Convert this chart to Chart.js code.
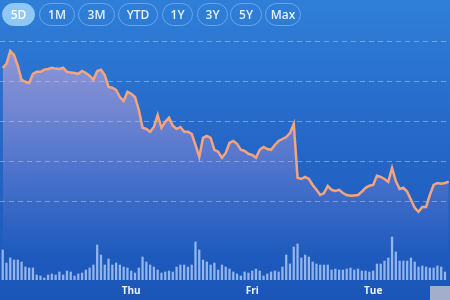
<!DOCTYPE html>
<html><head><meta charset="utf-8">
<script src="https://cdn.jsdelivr.net/npm/chart.js@4"></script>
<style>
html,body{margin:0;padding:0;}
body{width:450px;height:300px;overflow:hidden;position:relative;background:linear-gradient(180deg,#2f7fd8 0%,#2568c8 45%,#1b55b8 100%);font-family:"Open Sans",sans-serif;}
#c{position:absolute;left:0;top:0;}
#btns{position:absolute;left:0;top:3px;width:450px;height:24px;z-index:2;}
.b{position:absolute;top:0;box-sizing:border-box;height:23px;line-height:21px;text-align:center;border-radius:12px;border:1px solid rgba(150,200,255,0.55);color:#e6f0ff;font-size:12px;font-weight:600;}
.b.on{background:#8fc8f5;border-color:#8fc8f5;color:#fff;}
#grey{position:absolute;left:430px;top:286px;width:20px;height:14px;background:#a2aecb;}
</style></head>
<body>
<div id="btns"></div>
<canvas id="c" width="450" height="300"></canvas>
<div id="grey"></div>
<script>
const ranges = ['5D','1M','3M','YTD','1Y','3Y','5Y','Max'];
const dayLabels = ['Thu','Fri','Tue'];
const dayIndex = [34, 66, 98];
const gridPrices = [143, 144, 145, 146, 147];
const price = [146.33,146.43,146.75,146.65,146.38,146.03,145.98,145.95,146.18,146.23,
146.23,146.28,146.30,146.33,146.31,146.30,146.33,146.23,146.21,146.20,
146.18,146.25,146.20,146.13,146.03,146.25,146.28,146.15,145.85,145.83,
145.78,145.60,145.50,145.73,145.68,145.60,145.28,144.83,144.80,144.73,
144.85,145.15,144.83,144.98,145.08,144.88,144.80,144.85,144.73,144.73,
144.68,144.40,144.10,144.58,144.63,144.58,144.28,144.23,144.08,144.20,
144.45,144.50,144.43,144.28,144.25,144.18,144.15,144.08,144.28,144.35,
144.30,144.28,144.40,144.50,144.55,144.60,144.70,144.93,143.58,143.55,
143.60,143.55,143.40,143.28,143.15,143.20,143.38,143.28,143.25,143.28,
143.20,143.15,143.13,143.14,143.15,143.23,143.33,143.38,143.40,143.63,
143.60,143.55,143.48,143.83,143.50,143.30,143.33,143.23,143.03,142.83,
142.73,142.85,142.85,143.15,143.40,143.45,143.43,143.45,143.48];
const volume = [300,170,220,200,200,180,130,120,120,50,40,20,50,60,50,80,50,90,80,40,
60,70,100,120,150,350,250,150,210,150,170,150,130,120,90,70,120,230,180,150,
130,100,70,80,90,80,130,150,150,130,150,380,300,200,180,150,170,100,150,
130,110,80,60,40,80,70,90,110,90,40,60,80,90,80,130,250,160,330,360,
220,250,230,180,160,150,150,150,100,110,100,100,110,120,100,110,90,90,80,90,
160,160,190,220,430,280,190,190,190,220,180,130,140,130,120,120,140,130,80];

const btnLeft = [2,39,78,118,162,197,230,265];
const btnWidth = [33,36,37,40,31,31,32,36];
const bw = document.getElementById('btns');
ranges.forEach((r,i)=>{const d=document.createElement('div');d.className='b'+(i===0?' on':'');d.textContent=r;
  d.style.left=btnLeft[i]+'px';d.style.width=btnWidth[i]+'px';bw.appendChild(d);});

const ctx = document.getElementById('c').getContext('2d');
new Chart(ctx,{
  type:'bar',
  data:{datasets:[
    {type:'line', data: price.map((v,i)=>({x:i,y:v})), yAxisID:'y', xAxisID:'x',
     borderColor:'#f6a47e', borderWidth:2.5, pointRadius:0, tension:0, fill:'start', order:1,
     backgroundColor:(c)=>{const ch=c.chart;const a=ch.chartArea;if(!a)return 'transparent';
       const g=ch.ctx.createLinearGradient(0,a.top,0,a.bottom);
       g.addColorStop(0,'rgba(255,190,215,0.6)');g.addColorStop(0.4,'rgba(235,175,220,0.38)');
       g.addColorStop(0.92,'rgba(200,160,230,0)');return g;}},
    {type:'bar', data: volume.map((v,i)=>({x:i,y:v})), yAxisID:'yv', xAxisID:'x',
     backgroundColor:'rgba(185,212,252,0.75)', barThickness:1.6, order:0}
  ]},
  options:{
    responsive:false, animation:false, layout:{padding:0},
    plugins:{legend:{display:false}, tooltip:{enabled:false}},
    scales:{
      x:{type:'linear', min:-0.714, max:118.33, offset:false,
         grid:{display:false, drawTicks:false}, border:{display:false},
         afterBuildTicks:s=>{s.ticks=dayIndex.map(v=>({value:v}));},
         afterFit:s=>{s.height=20;},
         ticks:{autoSkip:false, maxRotation:0, padding:5, color:'#eef3ff',
           font:{family:'Open Sans', size:10, weight:'bold'},
           callback:(v)=>{const k=dayIndex.indexOf(v);return k>=0?dayLabels[k]:'';}}},
      y:{position:'left', min:141.025, max:148.025,
         afterBuildTicks:s=>{s.ticks=gridPrices.map(v=>({value:v}));},
         afterFit:s=>{s.width=0;},
         ticks:{display:false},
         border:{display:false, dash:[5,4]},
         grid:{color:'rgba(175,210,255,0.5)', lineWidth:1, drawTicks:false}},
      yv:{display:false, min:0, max:2800}
    }
  }
});
</script>
</body></html>
